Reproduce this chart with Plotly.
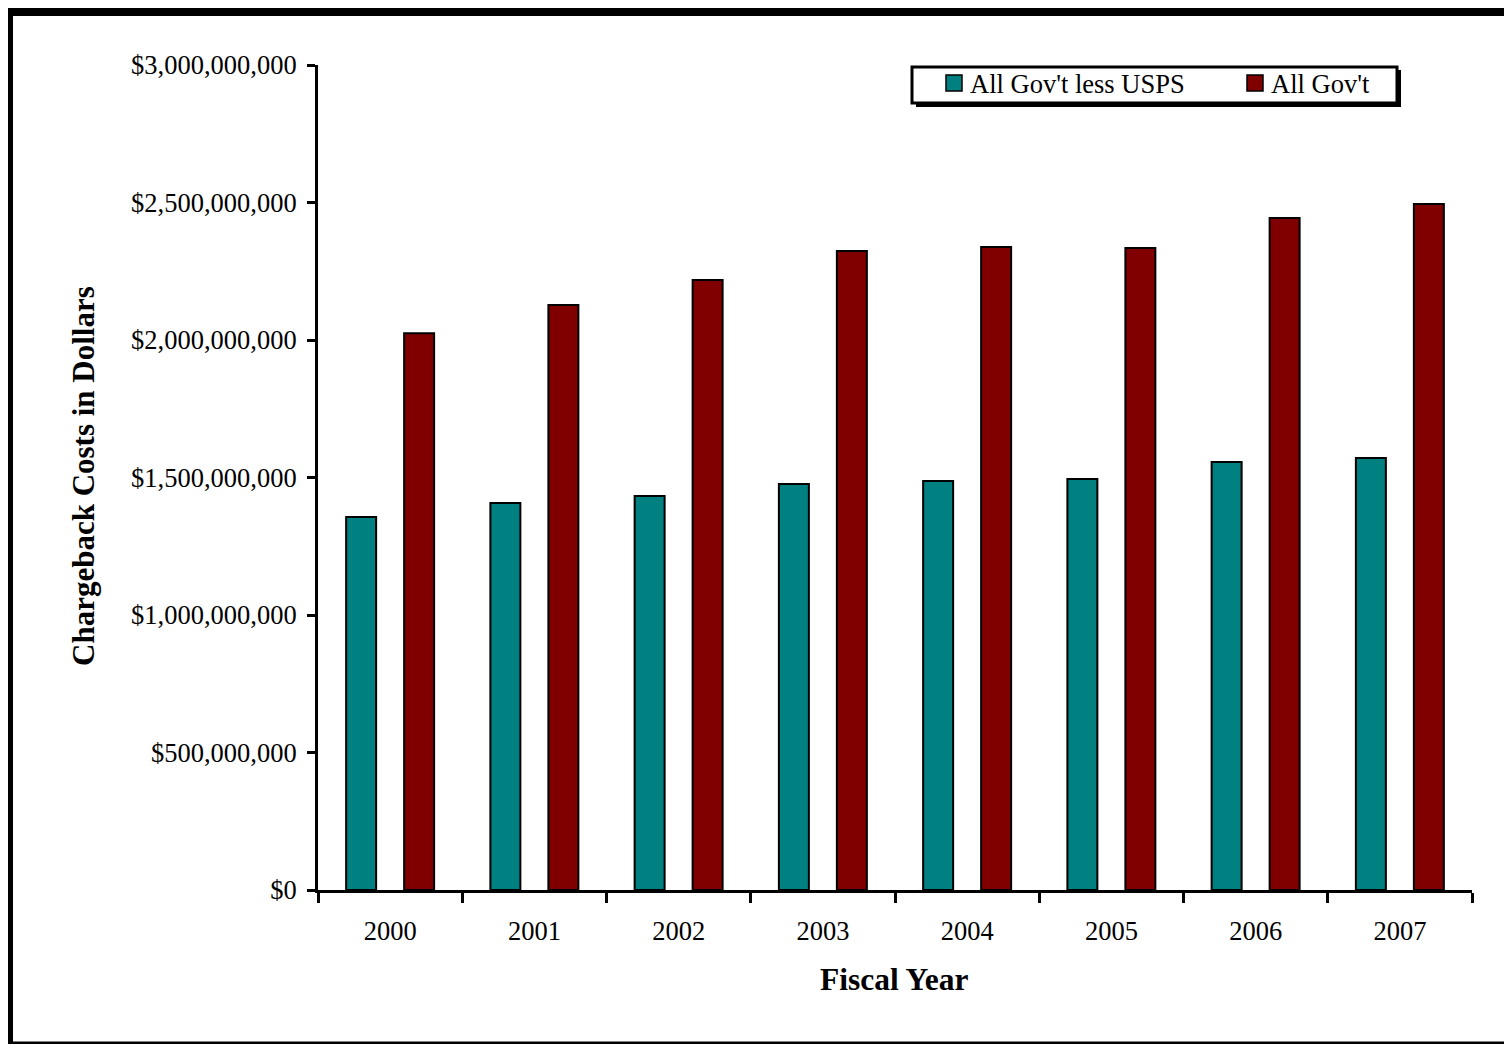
import plotly.graph_objects as go

years = ["2000", "2001", "2002", "2003", "2004", "2005", "2006", "2007"]
less_usps = [1.356e9, 1.407e9, 1.433e9, 1.476e9, 1.487e9, 1.495e9, 1.556e9, 1.571e9]
all_gov = [2.025e9, 2.127e9, 2.218e9, 2.324e9, 2.338e9, 2.335e9, 2.444e9, 2.495e9]
series_names = ["All Gov't less USPS", "All Gov't"]
series_colors = ["#008080", "#800000"]

# The page adds an 8px body margin; the figure fills the rest of the window.
OFF = 8
W, H = 1512 - OFF, 1044 - OFF
# plot area in page pixels
L, R, T, B = 318, 1472, 65, 890


def px(x):
    return (x - L) / (R - L)


def py(y):
    return (B - y) / (B - T)


FONT = "Liberation Serif"

fig = go.Figure()
for name, vals, col in zip(series_names, [less_usps, all_gov], series_colors):
    fig.add_trace(go.Bar(x=years, y=vals, name=name, showlegend=False,
                         marker=dict(color=col, line=dict(color="black", width=2))))

shapes = [
    # legend shadow and box
    dict(type="rect", xref="paper", yref="paper", x0=px(916), x1=px(1401), y0=py(107), y1=py(70),
         fillcolor="black", line=dict(width=0), layer="above"),
    dict(type="rect", xref="paper", yref="paper", x0=px(912), x1=px(1397), y0=py(103), y1=py(67),
         fillcolor="white", line=dict(color="black", width=3), layer="above"),
    # outer frame
    dict(type="line", xref="paper", yref="paper", x0=px(9), x1=px(9), y0=py(4), y1=py(1050),
         line=dict(color="black", width=8)),
    dict(type="line", xref="paper", yref="paper", x0=px(5), x1=px(1530), y0=py(12), y1=py(12),
         line=dict(color="black", width=8)),
    dict(type="line", xref="paper", yref="paper", x0=px(5), x1=px(1530), y0=py(1043), y1=py(1043),
         line=dict(color="black", width=3)),
]

annotations = [
    dict(text="<b>Chargeback Costs in Dollars</b>", xref="paper", yref="paper",
         x=px(83), y=py(476), textangle=-90, showarrow=False,
         font=dict(family=FONT, size=31, color="black"), xanchor="center", yanchor="middle"),
    dict(text="<b>Fiscal Year</b>", xref="paper", yref="paper",
         x=px(894), y=py(979), showarrow=False,
         font=dict(family=FONT, size=31.5, color="black"), xanchor="center", yanchor="middle"),
]

# legend entries (swatch + label)
legend_swatch_x = [946, 1247]
legend_text_x = [968, 1269]
for name, col, sx, tx in zip(series_names, series_colors, legend_swatch_x, legend_text_x):
    shapes.append(dict(type="rect", xref="paper", yref="paper", x0=px(sx), x1=px(sx + 16),
                       y0=py(91), y1=py(75), fillcolor=col,
                       line=dict(color="black", width=1.5), layer="above"))
    annotations.append(dict(text=name, xref="paper", yref="paper", x=px(tx), y=py(84),
                            xanchor="left", yanchor="middle", showarrow=False,
                            font=dict(family=FONT, size=26.5, color="black")))

fig.update_layout(
    width=W, height=H,
    margin=dict(l=L - OFF, r=W - (R - OFF), t=T - OFF, b=H - (B - OFF)),
    paper_bgcolor="white", plot_bgcolor="rgba(0,0,0,0)",
    barmode="group", bargap=0.196, bargroupgap=0.483,
    font=dict(family=FONT, size=26.5, color="black"),
    showlegend=False,
    shapes=shapes,
    annotations=annotations,
    xaxis=dict(type="category", showline=True, linecolor="black", linewidth=3,
               ticks="outside", tickson="boundaries", ticklen=10, tickwidth=3, tickcolor="black",
               showgrid=False, tickfont=dict(family=FONT, size=26.5, color="black"),
               ticklabelstandoff=15, fixedrange=True),
    yaxis=dict(range=[0, 3e9], dtick=5e8, tickformat="$,.0f", showline=True, linecolor="black",
               linewidth=3, ticks="outside", ticklen=8, tickwidth=3, tickcolor="black",
               showgrid=False, zeroline=False, tickfont=dict(family=FONT, size=26.5, color="black"),
               ticklabelstandoff=5, fixedrange=True),
)

fig.write_html("out.html")
